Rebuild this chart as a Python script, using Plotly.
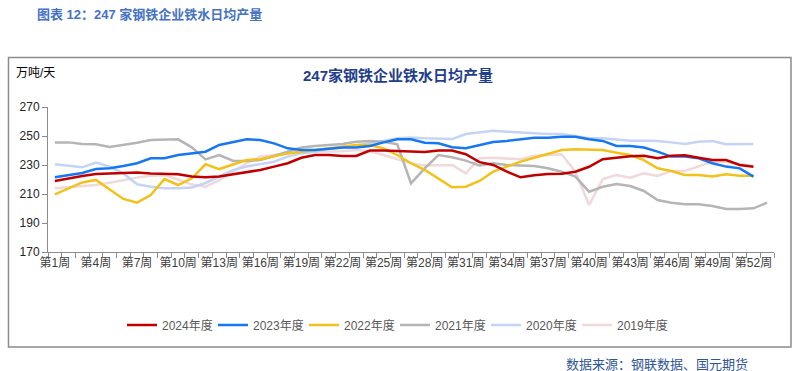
import plotly.graph_objects as go

weeks = list(range(1, 54))
tick_weeks = list(range(1, 53, 3))
tick_labels = [f"第{w}周" for w in tick_weeks]

y2024 = [219, 220.8, 222.4, 223.8, 224.2, 224.5, 224.9, 224.2, 223.8, 223.6, 222, 221.5, 222, 223.5,
         225.4, 226.6, 228.9, 231.2, 235, 236.9, 236.9, 236.2, 236.2, 240, 240, 239.8, 239.5, 239,
         240, 240, 237.4, 232, 230, 225.4, 221.5, 223, 223.8, 224, 225.4, 228.8, 234, 235, 236,
         236.4, 234.6, 236.4, 236.7, 235, 233.4, 233.4, 230, 228.8]
y2023 = [221.5, 222.9, 224.5, 227.2, 227.7, 229.3, 231.2, 234.6, 234.6, 236.9, 238, 239.2, 243.8,
         245.6, 247.7, 247.2, 244.9, 241.5, 240.3, 240.3, 241, 242, 242, 243.1, 245.6, 247.7, 247.7,
         245.4, 245, 242.2, 241.5, 243.8, 245.9, 246.6, 247.7, 248.8, 248.8, 249.5, 249.5, 247.7,
         246.6, 243.1, 243.1, 242, 239.2, 235.8, 235.8, 234.6, 231.2, 228.9, 227.7, 222]
y2022 = [209.8, 214, 218, 219.7, 213.4, 206.6, 204, 209.3, 220.3, 216.2, 220.8, 230.5, 227.2, 230.5,
         233.4, 234, 235.8, 238, 239.2, 240.3, 241.5, 242.6, 243.8, 243.8, 241.5, 236.9, 231.2,
         226.6, 220.8, 214.6, 215, 219, 225.4, 228.9, 232.3, 235, 237.6, 240.3, 240.8, 240.8, 240.3,
         238.5, 236.9, 233.4, 227.7, 225.9, 223.1, 223.1, 222, 223.6, 222.6, 222.6]
y2021 = [245.6, 245.6, 244.5, 244.3, 242.4, 243.8, 245.4, 247.2, 247.2, 247.7, 242.2, 233.9, 236.9,
         233, 232.8, 233.4, 236.2, 239.2, 242, 243.1, 243.8, 244.5, 246.1, 246.6, 246.1, 244.3,
         217.4, 227.7, 236.9, 235.3, 233, 229.6, 231.2, 230, 229.6, 229.3, 227.7, 225.4, 222, 211.6,
         215, 216.9, 215.5, 212.1, 205.9, 204, 202.9, 202.9, 201.7, 199.7, 199.7, 200.1, 204]
y2020 = [230.5, 229.6, 228.4, 231.7, 228.9, 224.2, 216.7, 215, 213.9, 213.9, 214.4, 217.6, 222, 226.5,
         229, 230.5, 232.3, 235.8, 238, 239.2, 241, 242, 243.4, 244.9, 246.6, 248.4, 249, 248.4,
         248.4, 247.9, 251.4, 252.3, 253.7, 253, 252.5, 251.8, 251.4, 251.4, 250, 248.4, 248.4,
         247.7, 246.8, 246.8, 246.6, 245.6, 244.5, 246.1, 246.6, 244.3, 244.5, 244.5]
y2019 = [213.9, 214.6, 215, 216.2, 217.8, 219.7, 221.3, 222.6, 223, 220, 216.5, 215, 219.5, 225.4,
         231.2, 235.8, 236.9, 238, 239.2, 239.2, 239.2, 239.5, 240.3, 239.5, 236.9, 233.9, 231.2,
         229.6, 229.6, 230, 224.2, 234.6, 235, 234.6, 234, 236.4, 236.9, 237.4, 225.4, 202.4, 220.3,
         223.1, 221.3, 224.2, 222.4, 225.9, 225.9, 228.9, 232.3, 232.3, 230.5, 229.3]

series = [
    ("2019年度", y2019, "#EFD9DA"),
    ("2020年度", y2020, "#C4D3F6"),
    ("2021年度", y2021, "#B5B5B5"),
    ("2022年度", y2022, "#F2C21B"),
    ("2023年度", y2023, "#1677F2"),
    ("2024年度", y2024, "#C00000"),
]

W, H = 797, 371
L, R, T, B = 48, 23, 107, 119
PW, PH = W - L - R, H - T - B


def px(x):
    return (x - L) / PW


def py(y):
    return (H - B - y) / PH


FONT = "Liberation Sans, Arial, Noto Sans CJK SC, sans-serif"

fig = go.Figure()
for name, vals, color in series:
    fig.add_trace(go.Scatter(
        x=weeks[:len(vals)], y=vals, mode="lines", name=name,
        line=dict(color=color, width=2.5),
    ))

fig.update_layout(
    width=W, height=H,
    margin=dict(l=L, r=R, t=T, b=B, pad=0, autoexpand=False),
    paper_bgcolor="white", plot_bgcolor="white",
    font=dict(family=FONT, color="#404040"),
    showlegend=True,
    legend=dict(
        orientation="h", traceorder="reversed",
        x=px(122), xanchor="left", y=py(325), yanchor="middle",
        font=dict(size=12, color="#595959", family=FONT),
        entrywidth=46, entrywidthmode="pixels",
        bgcolor="rgba(0,0,0,0)",
    ),
    xaxis=dict(
        range=[0.5, 53.5], showgrid=False, zeroline=False,
        showline=True, linecolor="#8C8C8C", linewidth=1,
        tickmode="array", tickvals=tick_weeks, ticktext=tick_labels,
        ticks="", tickfont=dict(size=12, color="#404040", family=FONT),
        minor=dict(tickmode="array", tickvals=[w + 0.5 for w in range(0, 54)],
                   ticks="outside", ticklen=5, tickcolor="#8C8C8C", showgrid=False),
        fixedrange=True,
    ),
    yaxis=dict(
        range=[170, 270], showgrid=False, zeroline=False,
        showline=True, linecolor="#8C8C8C", linewidth=1,
        tickmode="array", tickvals=[170, 190, 210, 230, 250, 270],
        ticks="outside", ticklen=5, tickcolor="#8C8C8C",
        tickfont=dict(size=12, color="#262626", family=FONT),
        fixedrange=True,
    ),
    shapes=[dict(type="rect", xref="paper", yref="paper",
                 x0=px(8.5), x1=px(791), y0=py(347), y1=py(57.5),
                 line=dict(color="#8C8C8C", width=1.5), fillcolor="rgba(0,0,0,0)", layer="below")],
    annotations=[
        dict(text="<b>图表 12：247 家钢铁企业铁水日均产量</b>", xref="paper", yref="paper",
             x=px(35), y=py(14), xanchor="left", yanchor="middle", showarrow=False,
             font=dict(size=13, color="#4472C4", family=FONT)),
        dict(text="<b>247家钢铁企业铁水日均产量</b>", xref="paper", yref="paper",
             x=px(398), y=py(75), xanchor="center", yanchor="middle", showarrow=False,
             font=dict(size=15, color="#1F3E8C", family=FONT)),
        dict(text="万吨/天", xref="paper", yref="paper",
             x=px(14), y=py(73), xanchor="left", yanchor="middle", showarrow=False,
             font=dict(size=12, color="#000000", family=FONT)),
        dict(text="数据来源：钢联数据、国元期货", xref="paper", yref="paper",
             x=px(564), y=py(364), xanchor="left", yanchor="middle", showarrow=False,
             font=dict(size=13, color="#2E5597", family=FONT)),
    ],
)

fig.write_html(
    "out.html",
    config={"displayModeBar": False},
    post_script="document.body.style.margin='0';document.body.style.overflow='hidden';",
)
